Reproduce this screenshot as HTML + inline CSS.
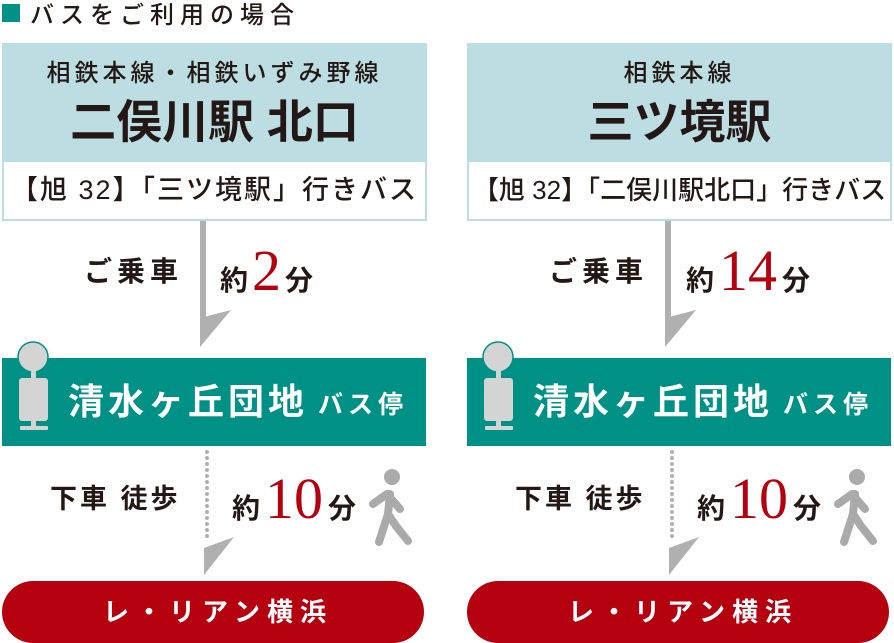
<!DOCTYPE html>
<html><head><meta charset="utf-8"><style>
*{margin:0;padding:0;box-sizing:border-box}
body{width:894px;height:643px;overflow:hidden;background:#fff;position:relative;font-family:"Liberation Sans","Noto Sans CJK JP",sans-serif;color:#231815}
.t{position:absolute;white-space:nowrap;line-height:1}
.c{text-align:center}
.r{font-family:"Liberation Serif","Noto Serif CJK SC",serif;color:#b5000f;font-size:58px;font-weight:400;letter-spacing:0}
svg{position:absolute;left:0;top:0}
</style></head><body>
<svg width="894" height="643" viewBox="0 0 894 643">
<rect x="2" y="4" width="18" height="18" fill="#009186"/>
<g id="col">
<rect x="2" y="43" width="425" height="117" fill="#bcdde1"/>
<rect x="3" y="161" width="423" height="59" fill="#fff" stroke="#bcdde1" stroke-width="2"/>
<rect x="200" y="221" width="6" height="100" fill="#b0b0b0"/>
<polygon points="200,318 231,310 200,347" fill="#b0b0b0"/>
<rect x="2" y="358" width="424" height="88" fill="#009186"/>
<circle cx="33" cy="357" r="15" fill="#d4d4d4" stroke="#009186" stroke-width="1.5"/>
<rect x="31" y="370" width="5" height="10" fill="#d4d4d4"/>
<rect x="19" y="378" width="29" height="43" rx="3" fill="#d4d4d4"/>
<rect x="31" y="420" width="5" height="8" fill="#d4d4d4"/>
<rect x="20" y="426" width="28" height="4" rx="1" fill="#d4d4d4"/>
<line x1="207" y1="452" x2="207" y2="542" stroke="#b0b0b0" stroke-width="4" stroke-linecap="round" stroke-dasharray="0 6"/>
<polygon points="204,548 234,537 204,575" fill="#b0b0b0"/>
<g stroke="#aaaaaa" stroke-width="8" stroke-linecap="round" stroke-linejoin="round" fill="none">
<circle cx="392" cy="477" r="8" fill="#aaaaaa" stroke="none"/>
<path d="M373,504 L387,494 L400,509"/>
<path d="M390,494 L388,514 L379,542"/>
<path d="M388,514 L396,526 L408,541"/>
</g>
<rect x="2" y="581" width="422" height="62" rx="31" fill="#b5000f"/>
</g>
<use href="#col" x="465" y="0"/>
</svg>

<div class="t" style="left:30px;top:4px;font-size:24px;letter-spacing:6px;font-weight:500">バスをご利用の場合</div>

<!-- left column -->
<div class="t c" style="left:2px;width:425px;top:62px;font-size:24px;letter-spacing:4px;font-weight:500">相鉄本線・相鉄いずみ野線</div>
<div class="t c" style="left:2px;width:425px;top:99px;font-size:46px;font-weight:700">二俣川駅 北口</div>
<div class="t c" style="left:2px;width:425px;top:177px;font-size:27px;font-weight:500;letter-spacing:2px">【旭 32】「三ツ境駅」行きバス</div>
<div class="t" style="left:84px;top:258px;font-size:28px;font-weight:700;letter-spacing:5px">ご乗車</div>
<div class="t" style="left:220px;top:243px;font-size:28px;font-weight:700;line-height:56px">約<span class="r" style="margin:0 4px">2</span>分</div>
<div class="t" style="left:68px;top:384px;font-size:36px;font-weight:700;color:#fff;letter-spacing:4px">清水ヶ丘団地</div>
<div class="t" style="left:318px;top:393px;font-size:25px;font-weight:700;color:#fff;letter-spacing:5px">バス停</div>
<div class="t" style="left:50px;top:486px;font-size:27px;font-weight:700;letter-spacing:3px">下車 徒歩</div>
<div class="t" style="left:232px;top:471px;font-size:28px;font-weight:700;line-height:56px">約<span class="r" style="margin:0 5px">10</span>分</div>
<div class="t" style="left:103px;top:599px;font-size:26px;font-weight:700;color:#fff;letter-spacing:7px">レ・リアン横浜</div>

<!-- right column -->
<div class="t c" style="left:467px;width:425px;top:62px;font-size:24px;letter-spacing:4px;font-weight:500">相鉄本線</div>
<div class="t c" style="left:467px;width:425px;top:99px;font-size:46px;font-weight:700">三ツ境駅</div>
<div class="t c" style="left:467px;width:425px;top:177px;font-size:26px;font-weight:500;letter-spacing:0">【旭 32】「二俣川駅北口」行きバス</div>
<div class="t" style="left:549px;top:258px;font-size:28px;font-weight:700;letter-spacing:5px">ご乗車</div>
<div class="t" style="left:686px;top:243px;font-size:28px;font-weight:700;line-height:56px">約<span class="r" style="margin:0 5px">14</span>分</div>
<div class="t" style="left:533px;top:384px;font-size:36px;font-weight:700;color:#fff;letter-spacing:4px">清水ヶ丘団地</div>
<div class="t" style="left:783px;top:393px;font-size:25px;font-weight:700;color:#fff;letter-spacing:5px">バス停</div>
<div class="t" style="left:515px;top:486px;font-size:27px;font-weight:700;letter-spacing:3px">下車 徒歩</div>
<div class="t" style="left:697px;top:471px;font-size:28px;font-weight:700;line-height:56px">約<span class="r" style="margin:0 5px">10</span>分</div>
<div class="t" style="left:568px;top:599px;font-size:26px;font-weight:700;color:#fff;letter-spacing:7px">レ・リアン横浜</div>
</body></html>
